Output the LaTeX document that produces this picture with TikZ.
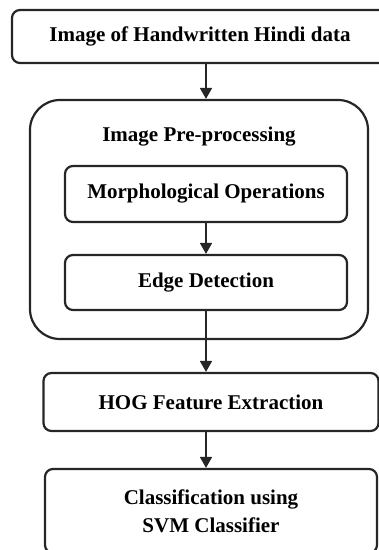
\documentclass[tikz,border=0pt]{standalone}
\usepackage{fontspec}
\setmainfont{Liberation Serif}
\usepackage{tikz}
\usetikzlibrary{positioning,arrows.meta}

\begin{document}
\begin{tikzpicture}[
  x=1pt, y=-1pt,
  stage/.style  = {rectangle, rounded corners=8pt, draw=black!85,
                   line width=2.2pt, inner sep=0pt, align=center,
                   font=\fontsize{21}{28}\selectfont\bfseries},
  group/.style  = {rectangle, rounded corners=30pt, draw=black!85,
                   line width=2.2pt, inner sep=0pt},
  flow/.style   = {line width=1.8pt, draw=black!85,
                   -{Triangle[length=11pt,width=12pt]}},
  node distance = 0pt
]
\clip (0,0) rectangle (379,550);

\node[stage, minimum width=376pt, minimum height=53pt] (input) at (200,36.5)
      {Image of Handwritten Hindi data};

\node[group, minimum width=338pt, minimum height=239pt] (prep) at (199,219.5) {};
\node[font=\fontsize{21}{28}\selectfont\bfseries] (preptitle) at (199,137)
      {Image Pre-processing};

\node[stage, minimum width=282pt, minimum height=56pt] (morph) at (206,194)
      {Morphological Operations};
\node[stage, minimum width=282pt, minimum height=55pt] (edge) at (206,282.5)
      {Edge Detection};

\node[stage, minimum width=335pt, minimum height=58pt] (hog) at (211,402)
      {HOG Feature Extraction};
\node[stage, minimum width=332pt, minimum height=84pt] (svm) at (211,511)
      {Classification using\\SVM Classifier};

\draw[flow] (morph.north |- input.south) -- (morph.north |- prep.north);
\draw[flow] (morph) -- (edge);
\draw[flow] (edge) -- (edge.south |- hog.north);
\draw[flow] (edge.south |- hog.south) -- (edge.south |- svm.north);
\end{tikzpicture}
\end{document}
